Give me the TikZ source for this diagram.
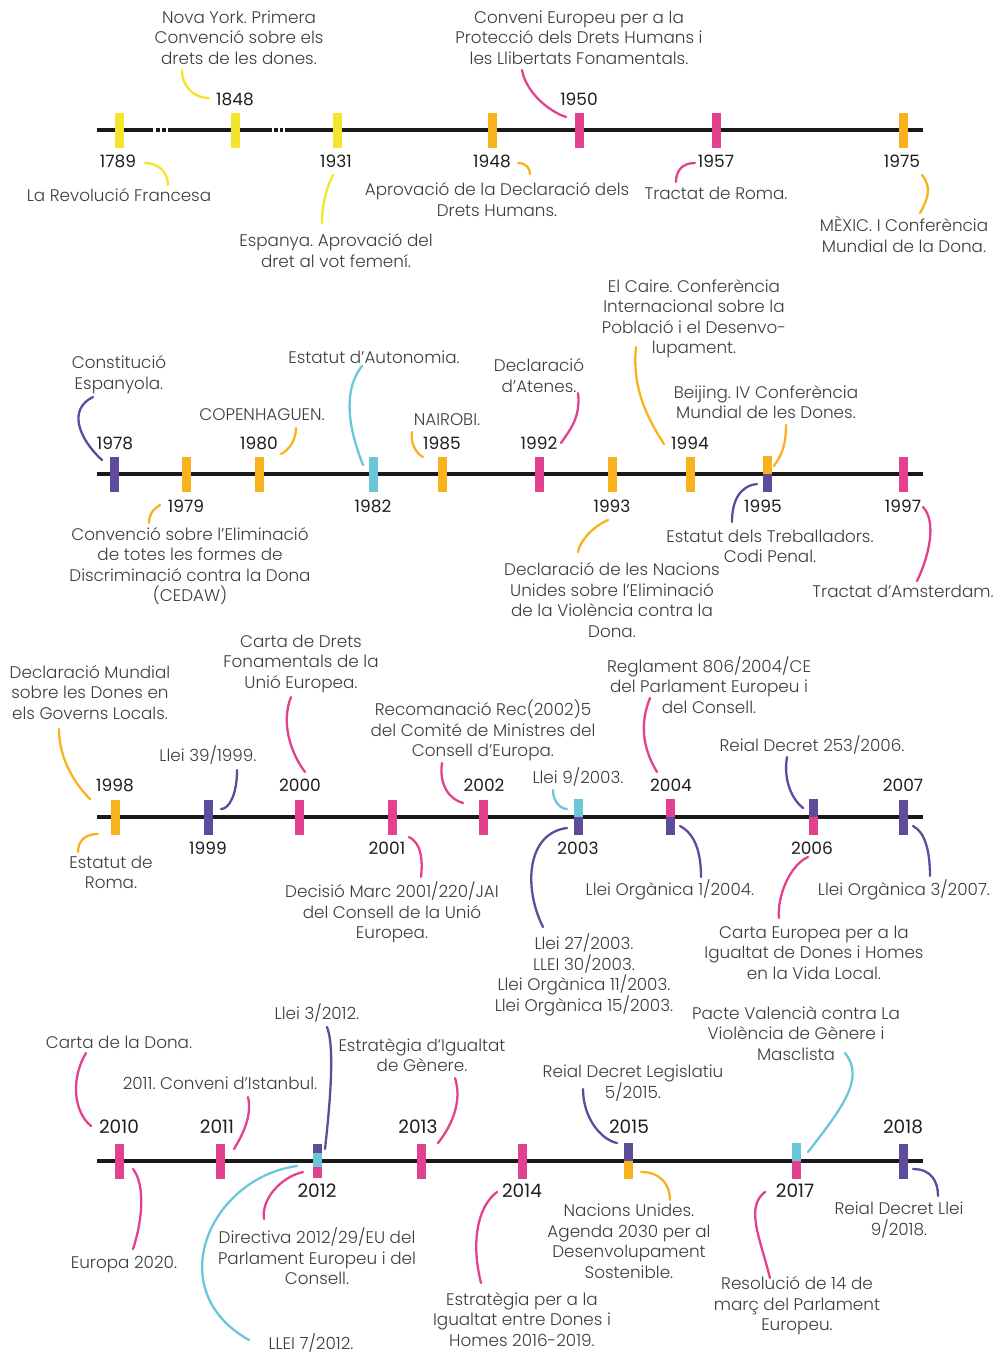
\documentclass[tikz,border=0pt]{standalone}
\usepackage{fontspec}
\IfFontExistsTF{Poppins Light}{\newfontfamily\descfam{Poppins Light}}{\newfontfamily\descfam{Poppins}}
\newfontfamily\yearfam{Poppins}
\frenchspacing
\definecolor{yel}{HTML}{F2E52B}
\definecolor{org}{HTML}{F8B21E}
\definecolor{pnk}{HTML}{E2418F}
\definecolor{pur}{HTML}{5F4B9C}
\definecolor{cya}{HTML}{6CC6D9}
\definecolor{linecol}{HTML}{1A1A1A}
\definecolor{desccol}{HTML}{3C3C3C}
\definecolor{yearcol}{HTML}{1E1E1E}
\newcommand\leader[6]{%
  \coordinate (#1s) at (#3); \coordinate (#1e) at (#6);
  \draw[lead,#2] (#1s) .. controls +(#4) and +(#5) .. (#1e);}
\tikzset{
  tl/.style={line width=4pt, draw=linecol},
  mk/.style={rectangle, minimum width=9pt, minimum height=35pt, inner sep=0pt, draw=none},
  mkh/.style={rectangle, minimum width=9pt, minimum height=17.5pt, inner sep=0pt, draw=none},
  yr/.style={font=\yearfam\fontsize{17}{19}\selectfont, text=yearcol, inner sep=0pt},
  yrb/.style={font=\yearfam\fontsize{18.5}{20}\selectfont, text=yearcol, inner sep=0pt},
  desc/.style={font=\descfam\fontsize{16.8}{20.5}\selectfont\frenchspacing, text=desccol, align=center, inner sep=0pt},
  lead/.style={line width=2.3pt, line cap=round},
}
\begin{document}
\begin{tikzpicture}[x=1pt,y=-1pt]
\useasboundingbox (0,0) rectangle (997,1353);
% ================= ROW 1 =================
\draw[tl] (97,130) -- (153,130);
\draw[tl] (156,130) -- (159.5,130);
\draw[tl] (162,130) -- (165.5,130);
\draw[tl] (168,130) -- (272,130);
\draw[tl] (274,130) -- (277.5,130);
\draw[tl] (280,130) -- (283,130);
\draw[tl] (285,130) -- (923,130);
\node[mk,fill=yel] (m1789) at (119,130) {};
\node[mk,fill=yel] (m1848) at (235,130) {};
\node[mk,fill=yel] (m1931) at (337,130) {};
\node[mk,fill=org] (m1948) at (492,130) {};
\node[mk,fill=pnk] (m1950) at (579,130) {};
\node[mk,fill=pnk] (m1957) at (716,130) {};
\node[mk,fill=org] (m1975) at (903,130) {};
\node[yr] (y1789) at (118,161) {1789};
\node[yr] (y1848) at (235,99) {1848};
\node[yr] (y1931) at (336,161) {1931};
\node[yr] (y1948) at (492,161) {1948};
\node[yr] (y1950) at (579,99) {1950};
\node[yr] (y1957) at (716,161) {1957};
\node[yr] (y1975) at (902,161) {1975};
\node[desc] (d1789) at (119,195) {La Revolució Francesa};
\node[desc] (d1848) at (239,37.5) {Nova York. Primera\\Convenció sobre els\\drets de les dones.};
\node[desc] (d1931) at (336,250.5) {Espanya. Aprovació del\\dret al vot femení.};
\node[desc] (d1948) at (497,199.5) {Aprovació de la Declaració dels\\Drets Humans.};
\node[desc] (d1950) at (579,37.5) {Conveni Europeu per a la\\Protecció dels Drets Humans i\\les Llibertats Fonamentals.};
\node[desc] (d1957) at (716,193) {Tractat de Roma.};
\node[desc] (d1975) at (904,234.5) {MÈXIC. I Conferència\\Mundial de la Dona.};
\leader{l1789}{yel}{145,163}{14,0}{0,-12}{168,185}
\leader{l1848}{yel}{182,70}{0,18}{-14,0}{209,98}
\leader{l1931}{yel}{333,175}{-7,14}{0,-18}{322,223}
\leader{l1948}{org}{518,163}{8,0}{0,-6}{530,174}
\leader{l1950}{pnk}{522,70}{4,22}{-18,-6}{566,117}
\leader{l1957}{pnk}{695,163}{-14,0}{0,-10}{676,182}
\leader{l1975}{org}{922,175}{10,12}{8,-14}{920,213}
% ================= ROW 2 =================
\draw[tl] (97,473.5) -- (923,473.5);
\node[mk,fill=pur] (m1978) at (114,474) {};
\node[mk,fill=org] (m1979) at (186,474) {};
\node[mk,fill=org] (m1980) at (259,474) {};
\node[mk,fill=cya] (m1982) at (373,474) {};
\node[mk,fill=org] (m1985) at (442,474) {};
\node[mk,fill=pnk] (m1992) at (539,474) {};
\node[mk,fill=org] (m1993) at (612,474) {};
\node[mk,fill=org] (m1994) at (690,474) {};
\node[mkh,fill=org,anchor=south] (m1995a) at (767,474) {};
\node[mkh,fill=pur,anchor=north] (m1995b) at (767,474) {};
\node[mk,fill=pnk] (m1997) at (903,474) {};
\node[yr] (y1978) at (115,443) {1978};
\node[yr] (y1979) at (186,506) {1979};
\node[yr] (y1980) at (259,443) {1980};
\node[yr] (y1982) at (373,506) {1982};
\node[yr] (y1985) at (442,443) {1985};
\node[yr] (y1992) at (539,443) {1992};
\node[yr] (y1993) at (612,506) {1993};
\node[yr] (y1994) at (690,443) {1994};
\node[yr] (y1995) at (763,506) {1995};
\node[yr] (y1997) at (903,506) {1997};
\node[desc] (d1978) at (119,374.5) {Constitució\\Espanyola.};
\node[desc] (d1979) at (190,566) {Convenció sobre l’Eliminació\\de totes les formes de\\Discriminació contra la Dona\\(CEDAW)};
\node[desc] (d1980) at (262,415) {COPENHAGUEN.};
\node[desc] (d1982) at (374,357) {Estatut d’Autonomia.};
\node[desc] (d1985) at (447,420) {NAIROBI.};
\node[desc] (d1992) at (539,375.5) {Declaració\\d’Atenes.};
\node[desc] (d1993) at (612,600) {Declaració de les Nacions\\Unides sobre l’Eliminació\\de la Violència contra la\\Dona.};
\node[desc] (d1994) at (694,318.5) {El Caire. Conferència\\Internacional sobre la\\Població i el Desenvo-\\lupament.};
\node[desc] (d1995a) at (766,402) {Beijing. IV Conferència\\Mundial de les Dones.};
\node[desc] (d1995b) at (770,546.5) {Estatut dels Treballadors.\\Codi Penal.};
\node[desc] (d1997) at (903,591) {Tractat d’Amsterdam.};
\leader{l1978}{pur}{93,397}{-25,12}{-24,-22}{102,460}
\leader{l1979}{org}{160,505}{-8,5}{0,-8}{149,523}
\leader{l1980}{org}{296,428}{0,12}{8,-4}{281,454}
\leader{l1982}{cya}{362,366}{-20,25}{-14,-35}{363,465}
\leader{l1985}{org}{412,432}{-2,12}{-6,-3}{423,457}
\leader{l1992}{pnk}{578,393}{3,25}{8,-12}{561,443}
\leader{l1993}{org}{608,520}{-14,6}{2,-12}{578,552}
\leader{l1994}{org}{636,347}{-4,40}{-18,-28}{664,444}
\leader{l1995a}{org}{786,425}{0,25}{5,-8}{774,466}
\leader{l1995b}{pur}{757,484}{-18,2}{0,-20}{732,522}
\leader{l1997}{pnk}{923,507}{14,15}{12,-25}{917,581}
% ================= ROW 3 =================
\draw[tl] (97,817) -- (923,817);
\node[mk,fill=org] (m1998) at (115,817) {};
\node[mk,fill=pur] (m1999) at (208,817) {};
\node[mk,fill=pnk] (m2000) at (299,817) {};
\node[mk,fill=pnk] (m2001) at (392,817) {};
\node[mk,fill=pnk] (m2002) at (483,817) {};
\node[mkh,fill=cya,anchor=south] (m2003a) at (578,817) {};
\node[mkh,fill=pur,anchor=north] (m2003b) at (578,817) {};
\node[mkh,fill=pnk,anchor=south] (m2004a) at (670,817) {};
\node[mkh,fill=pur,anchor=north] (m2004b) at (670,817) {};
\node[mkh,fill=pur,anchor=south] (m2006a) at (813,817) {};
\node[mkh,fill=pnk,anchor=north] (m2006b) at (813,817) {};
\node[mk,fill=pur] (m2007) at (903,817) {};
\node[yr] (y1998) at (115,785) {1998};
\node[yr] (y1999) at (208,848) {1999};
\node[yr] (y2000) at (300,785) {2000};
\node[yr] (y2001) at (387,848) {2001};
\node[yr] (y2002) at (484,785) {2002};
\node[yr] (y2003) at (578,848) {2003};
\node[yr] (y2004) at (671,785) {2004};
\node[yr] (y2006) at (812,848) {2006};
\node[yr] (y2007) at (903,785) {2007};
\node[desc] (d1998a) at (90,692.5) {Declaració Mundial\\sobre les Dones en\\els Governs Locals.};
\node[desc] (d1998b) at (111,872.5) {Estatut de\\Roma.};
\node[desc] (d1999) at (208,755) {Llei 39/1999.};
\node[desc] (d2000) at (301,663.5) {Carta de Drets\\Fonamentals de la\\Unió Europea.};
\node[desc] (d2001) at (392,912.5) {Decisió Marc 2001/220/JAI\\del Consell de la Unió\\Europea.};
\node[desc] (d2002) at (483,730.5) {Recomanació Rec(2002)5\\del Comité de Ministres del\\Consell d’Europa.};
\node[desc] (d2003a) at (578,777) {Llei 9/2003.};
\node[desc] (d2003b) at (584,975) {Llei 27/2003.\\LLEI 30/2003.\\Llei Orgànica 11/2003.\\Llei Orgànica 15/2003.};
\node[desc] (d2004a) at (709,685) {Reglament 806/2004/CE\\del Parlament Europeu i\\del Consell.};
\node[desc] (d2004b) at (670,890) {Llei Orgànica 1/2004.};
\node[desc] (d2006a) at (812,745) {Reial Decret 253/2006.};
\node[desc] (d2006b) at (814,952.5) {Carta Europea per a la\\Igualtat de Dones i Homes\\en la Vida Local.};
\node[desc] (d2007) at (904,890) {Llei Orgànica 3/2007.};
\leader{l1998a}{org}{59,729}{0,30}{-15,-15}{90,799}
\leader{l1998b}{org}{98,834}{-14,0}{0,-10}{78,852}
\leader{l1999}{pur}{237,770}{0,25}{8,0}{221,809}
\leader{l2000}{pnk}{291,697}{-10,25}{-15,-20}{305,772}
\leader{l2001}{pnk}{409,837}{12,6}{2,-18}{421,877}
\leader{l2002}{pnk}{442,763}{-3,22}{-14,-4}{463,803}
\leader{l2003a}{cya}{553,790}{0,12}{-6,0}{567,809}
\leader{l2003b}{pur}{567,828}{-40,5}{-20,-40}{543,927}
\leader{l2004a}{pnk}{650,698}{-10,25}{-15,-25}{657,772}
\leader{l2004b}{pur}{680,826}{15,8}{0,-25}{701,877}
\leader{l2006a}{pur}{787,757}{-4,25}{-10,-8}{803,808}
\leader{l2006b}{pnk}{808,857}{-18,8}{-2,-22}{779,918}
\leader{l2007}{pur}{913,826}{12,6}{0,-25}{930,876}
% ================= ROW 4 =================
\draw[tl] (97,1161) -- (923,1161);
\node[mk,fill=pnk] (m2010) at (119,1161) {};
\node[mk,fill=pnk] (m2011) at (220,1161) {};
\node[rectangle,minimum width=9pt,minimum height=9pt,inner sep=0pt,fill=pur] (m2012a) at (317,1148.5) {};
\node[rectangle,minimum width=9pt,minimum height=14pt,inner sep=0pt,fill=cya] (m2012b) at (317,1160) {};
\node[rectangle,minimum width=9pt,minimum height=11pt,inner sep=0pt,fill=pnk] (m2012c) at (317,1172.5) {};
\node[mk,fill=pnk] (m2013) at (421,1161) {};
\node[mk,fill=pnk] (m2014) at (522,1161) {};
\node[mkh,fill=pur,anchor=south] (m2015a) at (628,1161) {};
\node[mkh,fill=org,anchor=north] (m2015b) at (628,1161) {};
\node[mkh,fill=cya,anchor=south] (m2017a) at (796,1161) {};
\node[mkh,fill=pnk,anchor=north] (m2017b) at (796,1161) {};
\node[mk,fill=pur] (m2018) at (903,1161) {};
\node[yrb] (y2010) at (119,1127) {2010};
\node[yrb] (y2011) at (217,1127) {2011};
\node[yrb] (y2012) at (317,1191) {2012};
\node[yrb] (y2013) at (418,1127) {2013};
\node[yrb] (y2014) at (522,1191) {2014};
\node[yrb] (y2015) at (629,1127) {2015};
\node[yrb] (y2017) at (795,1191) {2017};
\node[yrb] (y2018) at (903,1127) {2018};
\node[desc] (d2010a) at (119,1042) {Carta de la Dona.};
\node[desc] (d2010b) at (124,1265) {Europa 2020.};
\node[desc] (d2011) at (220,1083) {2011. Conveni d’Istanbul.};
\node[desc] (d2012a) at (317,1013) {Llei 3/2012.};
\node[desc] (d2012b) at (311,1343) {LLEI 7/2012.};
\node[desc] (d2012c) at (317,1256.5) {Directiva 2012/29/EU del\\Parlament Europeu i del\\Consell.};
\node[desc] (d2013) at (422,1055) {Estratègia d’Igualtat\\de Gènere.};
\node[desc] (d2014) at (522,1319.5) {Estratègia per a la\\Igualtat entre Dones i\\Homes 2016-2019.};
\node[desc] (d2015a) at (633,1083) {Reial Decret Legislatiu\\5/2015.};
\node[desc] (d2015b) at (629,1241) {Nacions Unides.\\Agenda 2030 per al\\Desenvolupament\\Sostenible.};
\node[desc] (d2017a) at (796,1033.5) {Pacte Valencià contra La\\Violència de Gènere i\\Masclista};
\node[desc] (d2017b) at (797,1306) {Resolució de 14 de\\març del Parlament\\Europeu.};
\node[desc] (d2018) at (899,1220) {Reial Decret Llei\\9/2018.};
\leader{l2010a}{pnk}{86,1053}{-15,25}{-18,-15}{91,1126}
\leader{l2010b}{pnk}{133,1169}{12,15}{10,-30}{133,1249}
\leader{l2011}{pnk}{248,1097}{5,20}{6,-10}{234,1149}
\leader{l2012a}{pur}{327,1027}{8,20}{5,-45}{325,1149}
\leader{l2012b}{cya}{297,1166}{-87,12}{-89,-50}{249,1340}
\leader{l2012c}{pnk}{303,1172}{-22,5}{-3,-20}{264,1219}
\leader{l2013}{pnk}{455,1078}{8,25}{12,-15}{438,1143}
\leader{l2014}{pnk}{497,1192}{-20,15}{-10,-40}{481,1283}
\leader{l2015a}{pur}{583,1089}{0,30}{-15,-3}{617,1143}
\leader{l2015b}{org}{641,1172}{20,0}{0,-15}{670,1200}
\leader{l2017a}{cya}{845,1053}{20,25}{35,-45}{808,1152}
\leader{l2017b}{pnk}{765,1192}{-20,15}{-10,-40}{770,1278}
\leader{l2018}{pur}{913,1169}{18,0}{0,-15}{938,1196}
\end{tikzpicture}
\end{document}
